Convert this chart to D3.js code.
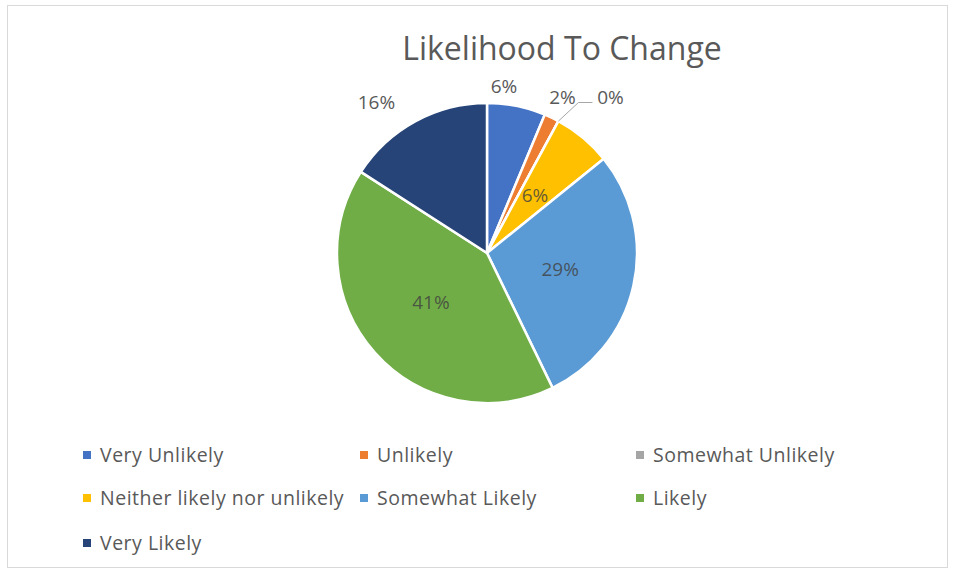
<!DOCTYPE html>
<html>
<head>
<meta charset="utf-8">
<script src="https://cdn.jsdelivr.net/npm/d3@7"></script>
<style>
  body { margin: 0; background: #fff; }
  svg { display: block; font-family: "Open Sans", sans-serif; }
</style>
</head>
<body>
<svg width="954" height="573"></svg>
<script>
// categories, shares (%)
const categories = ['Very Unlikely', 'Unlikely', 'Somewhat Unlikely', 'Neither likely nor unlikely', 'Somewhat Likely', 'Likely', 'Very Likely'];
const values = [6.3, 1.6, 0, 6.3, 28.6, 41.3, 15.9];
const labels = ['6%', '2%', '0%', '6%', '29%', '41%', '16%'];
const colors = ['#4472C4', '#ED7D31', '#A5A5A5', '#FFC000', '#5B9BD5', '#70AD47', '#264478'];

const svg = d3.select('svg');

// outer frame
svg.append('rect')
  .attr('x', 7.5).attr('y', 5.5)
  .attr('width', 940).attr('height', 562)
  .attr('fill', 'none')
  .attr('stroke', '#d9d9d9');

svg.append('text')
  .attr('x', 562).attr('y', 60)
  .attr('text-anchor', 'middle')
  .style('font-size', '32px')
  .style('fill', '#595959')
  .text('Likelihood To Change');

const cx = 487, cy = 253, r = 150;
const g = svg.append('g').attr('transform', `translate(${cx},${cy})`);

const pie = d3.pie().sort(null).value(d => d);
const arcs = pie(values);
const arc = d3.arc().innerRadius(0).outerRadius(r);

g.selectAll('path.slice')
  .data(arcs)
  .enter()
  .append('path')
  .attr('class', 'slice')
  .attr('d', arc)
  .attr('fill', (d, i) => colors[i])
  .attr('stroke', '#fff')
  .attr('stroke-width', 2.5)
  .attr('stroke-linejoin', 'round');

// labels: big slices inside, small ones outside (best fit)
const inner = d3.arc().innerRadius(r * 0.5).outerRadius(r * 0.5);
const outer = d3.arc().innerRadius(r * 1.15).outerRadius(r * 1.15);
const nudge = {0: [-17, 2], 1: [1, 0], 6: [-28, 1]};

arcs.forEach((d, i) => {
  const inside = values[i] > 5 && i !== 0 && i !== 6;
  let p;
  if (i === 2) {
    // zero slice: label pulled right with a leader line
    const edge = d3.arc().innerRadius(r).outerRadius(r).centroid(d);
    const knee = [edge[0] + 20, -r - 0.5];
    g.append('polyline')
      .attr('points', [edge, knee, [knee[0] + 14, knee[1]]].map(q => q.join(',')).join(' '))
      .attr('fill', 'none')
      .attr('stroke', '#a6a6a6')
      .attr('stroke-width', 1);
    p = [knee[0] + 32, knee[1] - 5];
  } else if (inside) {
    p = inner.centroid(d);
  } else {
    p = outer.centroid(d);
    const n = nudge[i] || [0, 0];
    p = [p[0] + n[0], p[1] + n[1]];
  }
  g.append('text')
    .attr('x', p[0]).attr('y', p[1])
    .attr('text-anchor', 'middle')
    .attr('dy', '0.35em')
    .style('font-size', '19px')
    .style('fill', inside ? '#404040' : '#595959')
    .style('fill-opacity', inside ? 0.8 : 1)
    .text(labels[i]);
});

// legend, three columns
const colX = [83, 360, 636];
const rowY = [455, 498, 543];
const legend = svg.selectAll('.legend')
  .data(categories)
  .enter()
  .append('g')
  .attr('class', 'legend')
  .attr('transform', (d, i) => `translate(${colX[i % 3]},${rowY[Math.floor(i / 3)]})`);

legend.append('rect')
  .attr('x', 0).attr('y', -4)
  .attr('width', 8).attr('height', 8)
  .attr('fill', (d, i) => colors[i]);

legend.append('text')
  .attr('x', 17).attr('dy', '0.35em')
  .style('font-size', '19.5px')
  .style('letter-spacing', '0.5px')
  .style('fill', '#595959')
  .text(d => d);
</script>
</body>
</html>
